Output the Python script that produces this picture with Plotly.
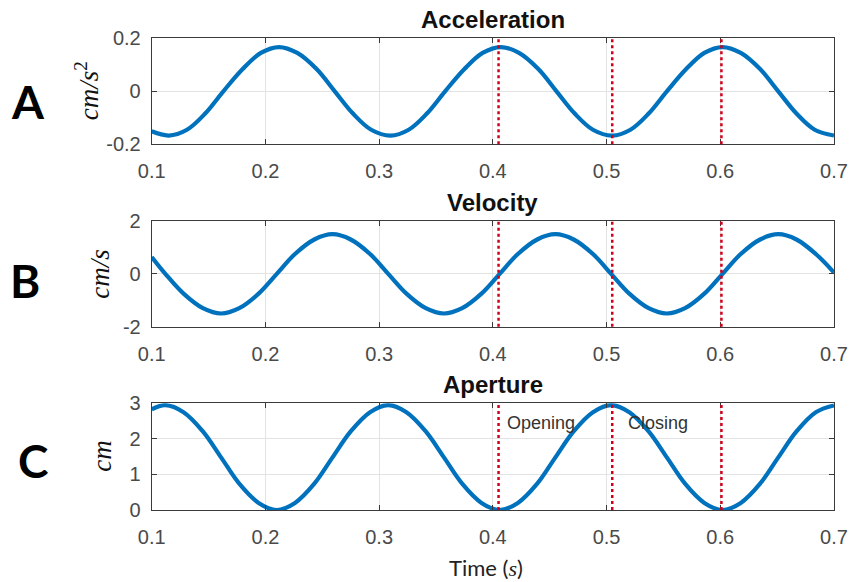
import plotly.graph_objects as go

# ---- sampled signals (time in s) ----
acc_t = [0.100, 0.115, 0.131, 0.147, 0.163, 0.180, 0.196, 0.212, 0.228, 0.245,
         0.261, 0.277, 0.293, 0.310, 0.326, 0.342, 0.358, 0.375, 0.391, 0.407,
         0.423, 0.440, 0.456, 0.472, 0.488, 0.505, 0.521, 0.537, 0.553, 0.570,
         0.586, 0.602, 0.618, 0.635, 0.651, 0.667, 0.683, 0.700]
acc_v = [-0.151,
         -0.167, -0.145, -0.084, 0.0, 0.084, 0.145, 0.167, 0.145, 0.084, 0.0, -0.084, -0.145,
         -0.167, -0.145, -0.084, 0.0, 0.084, 0.145, 0.167, 0.145, 0.084, 0.0, -0.084, -0.145,
         -0.167, -0.145, -0.084, 0.0, 0.084, 0.145, 0.167, 0.145, 0.084, 0.0, -0.084, -0.145,
         -0.167]

vel_t = [0.100, 0.112, 0.128, 0.145, 0.161, 0.177, 0.194, 0.210, 0.226, 0.243,
         0.259, 0.275, 0.292, 0.308, 0.324, 0.341, 0.357, 0.373, 0.390, 0.406,
         0.422, 0.439, 0.455, 0.471, 0.488, 0.504, 0.520, 0.537, 0.553, 0.569,
         0.586, 0.602, 0.618, 0.635, 0.651, 0.667, 0.684, 0.700]
vel_v = [0.64,
         0.0, -0.75, -1.30, -1.5, -1.30, -0.75, 0.0, 0.75, 1.30, 1.5, 1.30, 0.75,
         0.0, -0.75, -1.30, -1.5, -1.30, -0.75, 0.0, 0.75, 1.30, 1.5, 1.30, 0.75,
         0.0, -0.75, -1.30, -1.5, -1.30, -0.75, 0.0, 0.75, 1.30, 1.5, 1.30, 0.75,
         0.05]

ap_t = [0.100, 0.112, 0.128, 0.145, 0.161, 0.177, 0.194, 0.210, 0.226, 0.243,
        0.259, 0.275, 0.292, 0.308, 0.324, 0.341, 0.357, 0.373, 0.390, 0.406,
        0.422, 0.439, 0.455, 0.471, 0.488, 0.504, 0.520, 0.537, 0.553, 0.569,
        0.586, 0.602, 0.618, 0.635, 0.651, 0.667, 0.684, 0.700]
ap_v = [2.83,
        2.95, 2.75, 2.21, 1.48, 0.74, 0.20, 0.0, 0.20, 0.74, 1.48, 2.21, 2.75,
        2.95, 2.75, 2.21, 1.48, 0.74, 0.20, 0.0, 0.20, 0.74, 1.48, 2.21, 2.75,
        2.95, 2.75, 2.21, 1.48, 0.74, 0.20, 0.0, 0.20, 0.74, 1.48, 2.21, 2.75,
        2.94]

# event markers (s)
event_t = [0.405, 0.505, 0.601]

# axis ticks
x_ticks = [0.1, 0.2, 0.3, 0.4, 0.5, 0.6, 0.7]
x_ticktext = ["0.1", "0.2", "0.3", "0.4", "0.5", "0.6", "0.7"]
acc_ticks = [-0.2, 0, 0.2]
acc_ticktext = ["-0.2", "0", "0.2"]
vel_ticks = [-2, 0, 2]
vel_ticktext = ["-2", "0", "2"]
ap_ticks = [0, 1, 2, 3]
ap_ticktext = ["0", "1", "2", "3"]

panel_titles = ["Acceleration", "Velocity", "Aperture"]
panel_letters = ["A", "B", "C"]
y_units = ["<i>cm/s</i><sup>2</sup>", "<i>cm/s</i>", "<i>cm</i>"]
phase_labels = ["Opening", "Closing"]

W, H = 851, 582
LINE_BLUE = "#0072BD"
EVENT_RED = "#d2001a"
AX_COL = "#3a3a3a"
GRID_COL = "#e3e3e3"
TICK_FONT = dict(family="Liberation Sans, Arial", size=20, color="#4a4a4a")

x_dom = [151.7 / W, 834 / W]
# pixel top/bottom of each panel
panel_px = [(38.3, 144.3), (221.0, 326.7), (403.3, 510.0)]
y_doms = [[1 - b / H, 1 - t / H] for t, b in panel_px]

series = [(acc_t, acc_v, [-0.2, 0.2], acc_ticks, acc_ticktext),
          (vel_t, vel_v, [-2, 2], vel_ticks, vel_ticktext),
          (ap_t, ap_v, [0, 3], ap_ticks, ap_ticktext)]

fig = go.Figure()
layout = dict(width=W, height=H, margin=dict(l=0, r=0, t=0, b=0),
              paper_bgcolor="white", plot_bgcolor="white", showlegend=False)
annotations = []
shapes = []

for i, (tt, vv, yr, yt, ytt) in enumerate(series):
    n = "" if i == 0 else str(i + 1)
    fig.add_trace(go.Scatter(x=tt, y=vv, mode="lines",
                             line=dict(color=LINE_BLUE, width=4.2, shape="spline", smoothing=1.0),
                             xaxis="x" + n, yaxis="y" + n, hoverinfo="skip"))
    common = dict(showline=True, linecolor=AX_COL, linewidth=1, mirror="ticks",
                  ticks="inside", ticklen=5, tickcolor=AX_COL, tickwidth=1,
                  showgrid=True, gridcolor=GRID_COL, gridwidth=1, zeroline=False,
                  tickfont=TICK_FONT, automargin=False)
    layout["xaxis" + n] = dict(domain=x_dom, range=[0.1, 0.7], anchor="y" + n,
                               tickmode="array", tickvals=x_ticks, ticktext=x_ticktext,
                               ticklabelstandoff=9, **common)
    layout["yaxis" + n] = dict(domain=y_doms[i], range=yr, anchor="x" + n,
                               tickmode="array", tickvals=yt, ticktext=ytt,
                               ticklabelstandoff=6, **common)
    # event lines spanning the panel
    for et in event_t:
        shapes.append(dict(type="line", xref="x" + n, yref="y" + n + " domain",
                           x0=et, x1=et, y0=0, y1=1,
                           line=dict(color=EVENT_RED, width=2.5, dash="dot")))
    top_px, bot_px = panel_px[i]
    # panel title
    annotations.append(dict(text="<b>" + panel_titles[i] + "</b>", xref="paper", yref="paper",
                            x=(x_dom[0] + x_dom[1]) / 2, y=1 - top_px / H,
                            xanchor="center", yanchor="bottom",
                            yshift=3, showarrow=False,
                            font=dict(family="Liberation Sans, Arial", size=24, color="#111")))
    # y unit label
    annotations.append(dict(text=y_units[i], xref="paper", yref="paper",
                            x=[87, 100, 102][i] / W, y=1 - (top_px + bot_px) / 2 / H,
                            xanchor="center", yanchor="middle",
                            textangle=-90, showarrow=False,
                            font=dict(family="Liberation Serif, Times New Roman", size=27, color="#111")))
    # panel letter
    lx, ly = [(28, 101), (25, 280), (33, 460)][i]
    annotations.append(dict(text="<b>" + panel_letters[i] + "</b>", xref="paper", yref="paper",
                            x=lx / W, y=1 - ly / H, xanchor="center", yanchor="middle",
                            showarrow=False,
                            font=dict(family="Lato, Liberation Sans", size=46, color="black")))

# phase labels in the aperture panel, just right of the event lines
for k, lab in enumerate(phase_labels):
    annotations.append(dict(text=lab, xref="x3", yref="y3", x=event_t[k] + [0.0055, 0.0125][k], y=2.45,
                            xanchor="left", yanchor="middle", showarrow=False,
                            font=dict(family="Liberation Sans, Arial", size=18, color="#333")))

# shared time label
annotations.append(dict(text='Time (<span style="font-family:Liberation Serif;font-style:italic">s</span>)',
                        xref="paper", yref="paper", x=486 / W, y=1 - 567 / H,
                        xanchor="center", yanchor="middle", showarrow=False,
                        font=dict(family="Lato, Liberation Sans", size=22, color="#222")))

layout["annotations"] = annotations
layout["shapes"] = shapes
fig.update_layout(**layout)
fig.write_html("out.html")
